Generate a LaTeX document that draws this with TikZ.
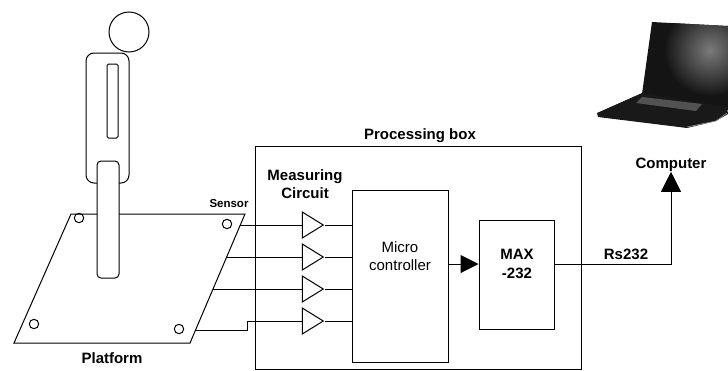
\documentclass[tikz,border=0pt]{standalone}
\usepackage{fontspec}
\setmainfont{Liberation Sans}
\usetikzlibrary{arrows.meta,shapes.geometric}

\begin{document}
\begin{tikzpicture}[x=1pt,y=-1pt,line width=1pt,>={Triangle[length=18pt,width=18pt]},
  amp/.style={draw,isosceles triangle,isosceles triangle stretches,inner sep=0pt,minimum width=26pt,minimum height=21pt},
  blk/.style={draw,rectangle,inner sep=0pt},
  lbl/.style={font=\fontsize{15}{18}\selectfont\bfseries,align=center,inner sep=0pt}]
\useasboundingbox (0,0) rectangle (728,370);
% platform; the sensor wires leave its right edge
\coordinate (pTL) at (71,214); \coordinate (pTR) at (245,214);
\coordinate (pBR) at (190,343); \coordinate (pBL) at (14,343);
\draw (pTL) -- (pTR) -- (pBR) -- (pBL) -- cycle;
\foreach \p in {(79,218),(227,224),(34,324),(179,329)} \draw \p circle (4.7pt);
\coordinate (s1) at (240.3,225); \coordinate (s2) at (226.7,257);
\coordinate (s3) at (213.0,289); \coordinate (s4) at (195.5,330);
% person standing on it
\draw (129,32) circle (20pt);
\draw[rounded corners=8pt] (86,53) rectangle (129,183);
\draw[rounded corners=1.5pt] (107,64) rectangle (118,138);
\draw[fill=white,rounded corners=4pt] (97,161) rectangle (119,278);
\node[lbl] (plat) at (112,358) {Platform};
\node[lbl,font=\fontsize{11.5}{13}\selectfont\bfseries] (sens) at (229,204) {Sensor};
% processing box
\node[blk,minimum width=326pt,minimum height=223pt] (proc) at (418,257.5) {};
\node[lbl] (proctxt) at (420,136) {Processing box};
\node[lbl] (meas) at (305,184) {Measuring\\Circuit};
\foreach \i/\y in {1/225,2/257,3/289,4/321} \node[amp] (amp\i) at (309.5,\y) {};
\node[blk,minimum width=96pt,minimum height=172pt] (mcu) at (400,276) {};
\node[font=\fontsize{15}{18}\selectfont,align=center,inner sep=0pt] (mcutxt) at (400,256) {Micro\\controller};
\node[blk,minimum width=75pt,minimum height=109pt] (max) at (516.5,274.5) {};
\node[lbl,font=\fontsize{15}{19}\selectfont\bfseries] (maxtxt) at (517,264) {MAX\\-232};
% wires
\draw (s1) -- (amp1.west);
\draw (s2) -- (amp2.west);
\draw (s3) -- (amp3.west);
\draw (s4) -- ++(51.5,0) |- (amp4.west);
\foreach \i in {1,...,4} \draw (amp\i.east) -- (amp\i.east -| mcu.west);
\draw[->] (mcu.east |- maxtxt) -- (max.west |- maxtxt);
% computer
\node[lbl] (comp) at (671,164.5) {Computer};
\node[lbl] (rs) at (626,254) {Rs232};
\draw[-{Triangle[length=20pt,width=20pt]}] (max.east |- maxtxt) -- (maxtxt -| comp) -- (comp.south);
% laptop
\begin{scope}
  \clip (652,22) -- (728,26) -- (728,110) -- (642,94) -- cycle;
  \fill[black!92] (600,0) rectangle (728,130);
  \shade[inner color=black!52,outer color=black!92] (710,50) circle (46pt);
\end{scope}
\fill[black!90] (597,113) -- (642,93) -- (727,107) -- (728,114) -- (716,121) -- (687,128) -- (598,117) -- cycle;
\fill[black!68] (642,97) -- (702,104) -- (696,111) -- (636,103) -- cycle;
\draw[black!40,line width=0.6pt] (687,127) -- (716,121) -- (727,113);
\end{tikzpicture}
\end{document}
